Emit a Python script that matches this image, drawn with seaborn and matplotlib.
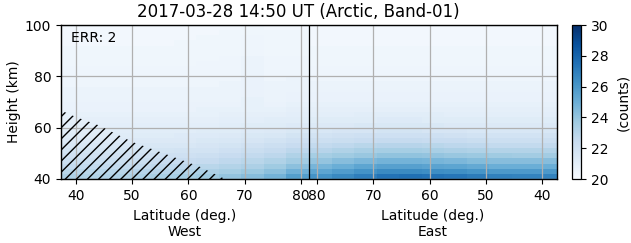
import numpy as np
import pandas as pd
import matplotlib
matplotlib.use("Agg")
import matplotlib.pyplot as plt
import seaborn as sns

# ---------------- data ----------------
title = "2017-03-28 14:50 UT (Arctic, Band-01)"
err_text = "ERR: 2"
xlabel_text = "Latitude (deg.)"
side_west = "West"
side_east = "East"
ylabel_text = "Height (km)"
cbar_label = "(counts)"

heights = [41, 43, 45, 47, 49, 51, 53, 55, 57, 59, 61, 63, 65, 67, 69,
           71, 73, 75, 77, 79, 81, 83, 85, 87, 89, 91, 93, 95, 97, 99]
lat_west = [39.4, 43.4, 47.4, 51.4, 55.4, 59.4, 63.4, 67.4, 71.4, 75.4, 79.4]
lat_east = [79.4, 75.4, 71.4, 67.4, 63.4, 59.4, 55.4, 51.4, 47.4, 43.4, 39.4]

counts_west = [
    [23.3, 23.2, 23.2, 23.3, 23.4, 23.5, 23.7, 24.0, 24.3, 24.8, 25.7],
    [22.9, 22.9, 22.9, 23.0, 23.0, 23.1, 23.3, 23.5, 23.8, 24.2, 24.9],
    [22.6, 22.6, 22.6, 22.6, 22.7, 22.8, 22.9, 23.1, 23.3, 23.7, 24.2],
    [22.3, 22.3, 22.3, 22.3, 22.4, 22.4, 22.5, 22.7, 22.9, 23.2, 23.6],
    [22.0, 22.0, 22.0, 22.0, 22.1, 22.1, 22.2, 22.4, 22.6, 22.8, 23.2],
    [21.8, 21.8, 21.8, 21.8, 21.8, 21.9, 21.9, 22.1, 22.3, 22.5, 22.8],
    [21.6, 21.6, 21.6, 21.6, 21.6, 21.6, 21.7, 21.8, 22.0, 22.2, 22.4],
    [21.4, 21.4, 21.4, 21.4, 21.4, 21.4, 21.5, 21.6, 21.7, 21.9, 22.1],
    [21.2, 21.2, 21.2, 21.2, 21.2, 21.3, 21.3, 21.4, 21.5, 21.6, 21.8],
    [21.1, 21.1, 21.1, 21.1, 21.1, 21.1, 21.2, 21.2, 21.3, 21.4, 21.5],
    [21.0, 21.0, 21.0, 21.0, 21.0, 21.0, 21.0, 21.1, 21.2, 21.2, 21.3],
    [20.9, 20.9, 20.9, 20.9, 20.9, 20.9, 20.9, 21.0, 21.0, 21.1, 21.1],
    [20.8, 20.8, 20.8, 20.8, 20.8, 20.8, 20.8, 20.9, 20.9, 20.9, 21.0],
    [20.7, 20.7, 20.7, 20.7, 20.7, 20.7, 20.8, 20.8, 20.8, 20.8, 20.9],
    [20.7, 20.7, 20.7, 20.7, 20.7, 20.7, 20.7, 20.7, 20.8, 20.7, 20.8],
    [20.6, 20.6, 20.6, 20.6, 20.6, 20.6, 20.6, 20.6, 20.8, 20.6, 20.7],
    [20.6, 20.6, 20.6, 20.6, 20.6, 20.6, 20.6, 20.6, 20.7, 20.6, 20.7],
    [20.6, 20.6, 20.6, 20.6, 20.6, 20.6, 20.6, 20.6, 20.7, 20.6, 20.6],
    [20.5, 20.5, 20.5, 20.5, 20.5, 20.5, 20.5, 20.6, 20.7, 20.6, 20.6],
    [20.5, 20.5, 20.5, 20.5, 20.5, 20.5, 20.5, 20.5, 20.7, 20.5, 20.6],
    [20.5, 20.5, 20.5, 20.5, 20.5, 20.5, 20.5, 20.5, 20.6, 20.5, 20.5],
    [20.5, 20.5, 20.5, 20.5, 20.5, 20.5, 20.5, 20.5, 20.6, 20.5, 20.5],
    [20.4, 20.4, 20.4, 20.4, 20.4, 20.4, 20.5, 20.5, 20.6, 20.5, 20.5],
    [20.4, 20.4, 20.4, 20.4, 20.4, 20.4, 20.4, 20.5, 20.6, 20.5, 20.5],
    [20.4, 20.4, 20.4, 20.4, 20.4, 20.4, 20.4, 20.4, 20.5, 20.4, 20.4],
    [20.4, 20.4, 20.4, 20.4, 20.4, 20.4, 20.4, 20.4, 20.5, 20.4, 20.4],
    [20.3, 20.3, 20.3, 20.3, 20.3, 20.4, 20.4, 20.4, 20.5, 20.4, 20.4],
    [20.3, 20.3, 20.3, 20.3, 20.3, 20.3, 20.4, 20.4, 20.5, 20.4, 20.4],
    [20.3, 20.3, 20.3, 20.3, 20.3, 20.3, 20.3, 20.4, 20.4, 20.4, 20.4],
    [20.3, 20.3, 20.3, 20.3, 20.3, 20.3, 20.3, 20.3, 20.4, 20.3, 20.3],
]

counts_east = [
    [26.2, 26.6, 27.0, 27.4, 27.5, 27.4, 27.3, 27.1, 26.9, 26.8, 26.8],
    [25.4, 25.8, 26.2, 26.5, 26.5, 26.4, 26.3, 26.1, 25.9, 25.9, 25.9],
    [24.7, 25.0, 25.4, 25.6, 25.6, 25.5, 25.4, 25.2, 25.0, 25.0, 25.0],
    [24.0, 24.3, 24.6, 24.8, 24.8, 24.7, 24.6, 24.4, 24.3, 24.3, 24.3],
    [23.5, 23.7, 23.9, 24.1, 24.1, 24.0, 23.9, 23.8, 23.7, 23.6, 23.6],
    [23.0, 23.2, 23.4, 23.5, 23.5, 23.4, 23.3, 23.2, 23.1, 23.1, 23.1],
    [22.6, 22.7, 22.9, 23.0, 23.0, 22.9, 22.8, 22.7, 22.6, 22.6, 22.6],
    [22.2, 22.3, 22.4, 22.5, 22.5, 22.4, 22.4, 22.3, 22.2, 22.2, 22.2],
    [21.9, 22.0, 22.1, 22.1, 22.1, 22.1, 22.0, 21.9, 21.9, 21.9, 21.9],
    [21.6, 21.7, 21.7, 21.8, 21.8, 21.7, 21.7, 21.6, 21.6, 21.6, 21.6],
    [21.4, 21.4, 21.5, 21.5, 21.5, 21.5, 21.4, 21.4, 21.4, 21.4, 21.4],
    [21.2, 21.2, 21.2, 21.3, 21.3, 21.2, 21.2, 21.2, 21.2, 21.2, 21.2],
    [21.0, 21.0, 21.1, 21.1, 21.1, 21.1, 21.0, 21.0, 21.0, 21.0, 21.0],
    [20.9, 20.9, 20.9, 20.9, 20.9, 20.9, 20.9, 20.9, 20.9, 20.9, 20.9],
    [20.8, 20.8, 20.8, 20.8, 20.8, 20.8, 20.8, 20.8, 20.8, 20.8, 20.8],
    [20.7, 20.7, 20.7, 20.7, 20.7, 20.7, 20.7, 20.7, 20.7, 20.7, 20.7],
    [20.7, 20.7, 20.7, 20.7, 20.7, 20.7, 20.7, 20.7, 20.7, 20.7, 20.7],
    [20.6, 20.6, 20.6, 20.6, 20.6, 20.6, 20.6, 20.6, 20.6, 20.6, 20.6],
    [20.6, 20.6, 20.6, 20.6, 20.6, 20.6, 20.6, 20.6, 20.6, 20.6, 20.6],
    [20.5, 20.5, 20.5, 20.5, 20.5, 20.5, 20.5, 20.5, 20.5, 20.5, 20.5],
    [20.5, 20.5, 20.5, 20.5, 20.5, 20.5, 20.5, 20.5, 20.5, 20.5, 20.5],
    [20.5, 20.5, 20.5, 20.5, 20.5, 20.5, 20.5, 20.5, 20.5, 20.5, 20.5],
    [20.4, 20.4, 20.4, 20.4, 20.4, 20.4, 20.4, 20.4, 20.4, 20.4, 20.4],
    [20.4, 20.4, 20.4, 20.4, 20.4, 20.4, 20.4, 20.4, 20.4, 20.4, 20.4],
    [20.4, 20.4, 20.4, 20.4, 20.4, 20.4, 20.4, 20.4, 20.4, 20.4, 20.4],
    [20.4, 20.4, 20.4, 20.4, 20.4, 20.4, 20.4, 20.4, 20.4, 20.4, 20.4],
    [20.3, 20.3, 20.3, 20.3, 20.3, 20.3, 20.3, 20.3, 20.3, 20.3, 20.3],
    [20.3, 20.3, 20.3, 20.3, 20.3, 20.3, 20.3, 20.3, 20.3, 20.3, 20.3],
    [20.3, 20.3, 20.3, 20.3, 20.3, 20.3, 20.3, 20.3, 20.3, 20.3, 20.3],
    [20.3, 20.3, 20.3, 20.3, 20.3, 20.3, 20.3, 20.3, 20.3, 20.3, 20.3],
]

west_ticks = [40, 50, 60, 70, 80]
east_ticks = [80, 70, 60, 50, 40]
height_ticks = [40, 60, 80, 100]
cbar_ticks = [20, 22, 24, 26, 28, 30]
vmin, vmax = 20, 30

# boundary of the hatched (flagged) region, West side
hatch_lat = [37.4, 40.0, 44.0, 50.0, 56.0, 62.0, 66.5]
hatch_height = [66.7, 64.2, 61.0, 54.5, 49.7, 44.8, 40.0]

# ---------------- build table ----------------
cols = [f"W{v}" for v in lat_west] + [f"E{v}" for v in lat_east]
values = [w + e for w, e in zip(counts_west, counts_east)]
df = pd.DataFrame(values, index=heights, columns=cols)

n_w = len(lat_west)
dlat_w = lat_west[1] - lat_west[0]
dlat_e = lat_east[0] - lat_east[1]
dh = heights[1] - heights[0]


def x_west(lat):
    return 0.5 + (np.asarray(lat, float) - lat_west[0]) / dlat_w


def x_east(lat):
    return n_w + 0.5 + (lat_east[0] - np.asarray(lat, float)) / dlat_e


def y_of(h):
    return 0.5 + (np.asarray(h, float) - heights[0]) / dh


# ---------------- plot ----------------
W, H, DPI = 631, 243, 100
plt.rcParams["font.family"] = ["DejaVu Sans"]
plt.rcParams["hatch.linewidth"] = 1.0
fig = plt.figure(figsize=(W / DPI, H / DPI), dpi=DPI)
fs = 10

ax = fig.add_axes([61 / W, 1 - 179 / H, 496 / W, 154 / H])
cax = fig.add_axes([572 / W, 1 - 179 / H, 9 / W, 154 / H])

sns.heatmap(df, ax=ax, cmap="Blues", vmin=vmin, vmax=vmax, cbar_ax=cax,
            cbar_kws={"ticks": cbar_ticks}, xticklabels=False,
            yticklabels=False)

ax.set_ylim(0, len(heights))
ax.set_xlim(0, len(cols))
for s in ax.spines.values():
    s.set_visible(True)
    s.set_color("black")
    s.set_linewidth(1.0)
    s.set_zorder(6)

xt = list(x_west(west_ticks)) + list(x_east(east_ticks))
ax.set_xticks(xt)
ax.set_xticklabels([str(v) for v in west_ticks + east_ticks], fontsize=fs)
ax.set_yticks(y_of(height_ticks))
ax.set_yticklabels([str(v) for v in height_ticks], fontsize=fs, rotation=0)
ax.tick_params(axis="both", length=3.5, width=0.8, color="black", pad=3.5)
ax.set_xlabel("")
ax.set_ylabel(ylabel_text, fontsize=fs, labelpad=3)

ax.set_axisbelow(False)
ax.grid(True, color="#b0b0b0", linewidth=0.9)

# hatched region
hx = x_west(hatch_lat)
hy = y_of(hatch_height)
ax.fill_between(hx, 0, hy, facecolor="none", edgecolor="black",
                hatch="///", linewidth=0, zorder=3)

# divider between West and East halves
ax.axvline(n_w, color="black", linewidth=0.9, zorder=4)

ax.text(0.02, 0.915, err_text, transform=ax.transAxes, fontsize=fs,
        ha="left", va="center")

ax.text(0.25, -0.238, xlabel_text, transform=ax.transAxes, fontsize=fs,
        ha="center", va="center")
ax.text(0.25, -0.343, side_west, transform=ax.transAxes, fontsize=fs,
        ha="center", va="center")
ax.text(0.75, -0.238, xlabel_text, transform=ax.transAxes, fontsize=fs,
        ha="center", va="center")
ax.text(0.75, -0.343, side_east, transform=ax.transAxes, fontsize=fs,
        ha="center", va="center")

fig.text(298 / W, 1 - 12 / H, title, fontsize=12, ha="center", va="center")

cbar = ax.collections[0].colorbar
cbar.outline.set_visible(True)
cbar.outline.set_linewidth(0.9)
cbar.outline.set_edgecolor("black")
cbar.ax.tick_params(labelsize=fs, length=3.5, width=0.8, color="black")
cbar.set_label(cbar_label, fontsize=fs, labelpad=6)

fig.savefig("out.png", dpi=DPI)
